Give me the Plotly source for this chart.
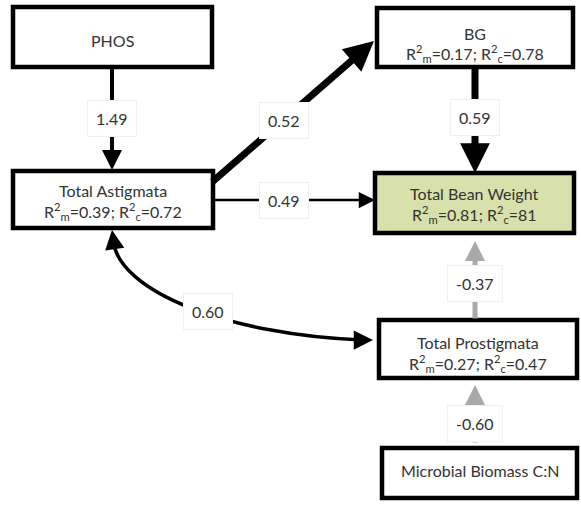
import plotly.graph_objects as go

# ---- data ----
node_names = ["PHOS", "Total Astigmata", "BG", "Total Bean Weight",
              "Total Prostigmata", "Microbial Biomass C:N"]
r2_marginal = [None, "0.39", "0.17", "0.81", "0.27", None]
r2_conditional = [None, "0.72", "0.78", "81", "0.47", None]
edge_from = ["PHOS", "Total Astigmata", "BG", "Total Astigmata",
             "Total Prostigmata", "Microbial Biomass C:N"]
edge_to = ["Total Astigmata", "BG", "Total Bean Weight", "Total Bean Weight",
           "Total Bean Weight", "Total Prostigmata"]
edge_coef = ["1.49", "0.52", "0.59", "0.49", "-0.37", "-0.60"]
corr_pair = ["Total Astigmata", "Total Prostigmata"]
corr_coef = "0.60"

# ---- layout (positions / styles) ----
boxes = {
    "PHOS": (13, 7, 212, 67),
    "Total Astigmata": (13, 171, 213, 228),
    "BG": (377, 8, 573, 67),
    "Total Bean Weight": (375, 173, 574, 233),
    "Total Prostigmata": (379, 320, 577, 378),
    "Microbial Biomass C:N": (382, 448, 577, 498),
}
# text centre y (name, R2 line)
text_y = {
    "PHOS": (40, None),
    "Total Astigmata": (190, 211),
    "BG": (33, 53),
    "Total Bean Weight": (193, 214),
    "Total Prostigmata": (342, 363),
    "Microbial Biomass C:N": (470, None),
}
box_fill = {"Total Bean Weight": "#d8e0ab"}
# edge geometry: start, tip, label position, width, color, arrowsize
edge_geom = [
    ((112, 67), (112, 170), (112, 118), 4, "black", 1.0),
    ((211, 183), (374, 41), (284, 120), 7, "black", 0.85),
    ((475, 67), (475, 173), (475, 117), 7, "black", 0.85),
    ((213, 200), (375, 200), (284, 200), 2.5, "black", 1.3),
    ((475, 320), (475, 241), (475, 283), 5, "#a9a9a9", 0.8),
    ((475, 444), (475, 385), (475, 423), 5, "#a9a9a9", 0.8),
]
TXT = "#333333"
FONT = "Lato"
FS = 16

fig = go.Figure()
fig.add_trace(go.Scatter(x=[0, 581], y=[0, 507], mode="markers",
                         marker=dict(opacity=0), hoverinfo="skip", showlegend=False))

# curved double-headed correlation path (cubic connector)
c0, c1, c2, c3 = (113, 240), (118, 292), (230, 335), (362, 340)
fig.add_shape(type="path",
              path=f"M {c0[0]},{c0[1]} C {c1[0]},{c1[1]} {c2[0]},{c2[1]} {c3[0]},{c3[1]}",
              line=dict(color="black", width=3.5), layer="below")

annotations = []
# curved arrowheads
annotations.append(dict(x=112, y=230, ax=114, ay=244,
                        xref="x", yref="y", axref="x", ayref="y", text="",
                        showarrow=True, arrowhead=2, arrowsize=1.1, arrowwidth=3.5,
                        arrowcolor="black", standoff=0, startstandoff=0))
annotations.append(dict(x=373, y=340, ax=358, ay=340,
                        xref="x", yref="y", axref="x", ayref="y", text="",
                        showarrow=True, arrowhead=2, arrowsize=1.1, arrowwidth=3.5,
                        arrowcolor="black", standoff=0, startstandoff=0))

# straight edges
for (s, t, lab, w, c, asz) in edge_geom:
    annotations.append(dict(x=t[0], y=t[1], ax=s[0], ay=s[1],
                            xref="x", yref="y", axref="x", ayref="y", text="",
                            showarrow=True, arrowhead=2, arrowsize=asz,
                            arrowwidth=w, arrowcolor=c, standoff=0, startstandoff=0))

# edge labels
label_positions = [g[2] for g in edge_geom] + [(208, 311)]
label_texts = edge_coef + [corr_coef]
for (lx, ly), txt in zip(label_positions, label_texts):
    annotations.append(dict(x=lx, y=ly, xref="x", yref="y", text=txt,
                            showarrow=False, font=dict(family=FONT, size=FS, color=TXT),
                            bgcolor="white", bordercolor="#f0f0f0", borderwidth=1,
                            borderpad=8, xanchor="center", yanchor="middle"))

# boxes
for name, m, c in zip(node_names, r2_marginal, r2_conditional):
    x0, y0, x1, y1 = boxes[name]
    fig.add_shape(type="rect", x0=x0, y0=y0, x1=x1, y1=y1,
                  line=dict(color="black", width=4.5),
                  fillcolor=box_fill.get(name, "white"), layer="above")
    cx = (x0 + x1) / 2
    ty, ry = text_y[name]
    annotations.append(dict(x=cx, y=ty, xref="x", yref="y", text=name,
                            showarrow=False, font=dict(family=FONT, size=FS, color=TXT)))
    if m is not None:
        r2 = f"R<sup>2</sup><sub>m</sub>={m}; R<sup>2</sup><sub>c</sub>={c}"
        annotations.append(dict(x=cx, y=ry, xref="x", yref="y", text=r2,
                                showarrow=False, font=dict(family=FONT, size=FS, color=TXT)))

fig.update_layout(
    width=581, height=507,
    margin=dict(l=0, r=0, t=0, b=0),
    plot_bgcolor="white", paper_bgcolor="white",
    xaxis=dict(range=[0, 581], visible=False, fixedrange=True),
    yaxis=dict(range=[507, 0], visible=False, fixedrange=True),
    annotations=annotations,
    showlegend=False,
)

fig.write_html("out.html")
